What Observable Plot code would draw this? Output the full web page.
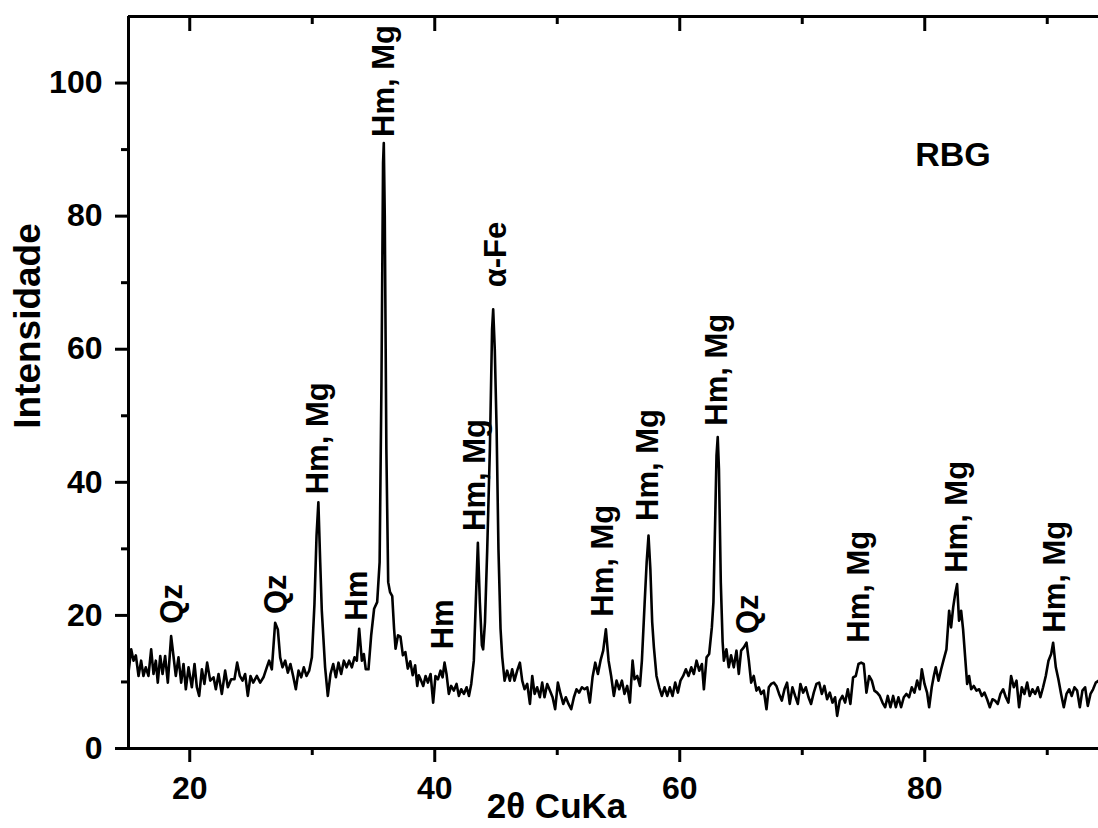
<!DOCTYPE html>
<html>
<head>
<meta charset="utf-8">
<script src="https://cdn.jsdelivr.net/npm/d3@7"></script>
<script src="https://cdn.jsdelivr.net/npm/@observablehq/plot@0.6"></script>
<style>
  html, body { margin: 0; padding: 0; background: #fff; }
  #chart { width: 1098px; height: 828px; overflow: hidden; }
</style>
</head>
<body>
<div id="chart"></div>
<script>
// X-ray diffraction pattern of sample RBG (2θ in degrees, Cu Kα)
const twoTheta = [
  15.0, 15.22, 15.41, 15.6, 15.82, 16.03, 16.22, 16.41, 16.63, 16.85, 17.04, 17.23, 17.39, 17.59, 17.78, 17.99,
  18.21, 18.48, 18.67, 18.86, 19.08, 19.3, 19.49, 19.68, 19.9, 20.17, 20.39, 20.58, 20.77, 20.99, 21.2, 21.42,
  21.67, 21.94, 22.13, 22.35, 22.62, 22.89, 23.11, 23.38, 23.65, 23.87, 24.09, 24.31, 24.52, 24.74, 24.96, 25.18,
  25.48, 25.75, 26.02, 26.29, 26.48, 26.7, 26.97, 27.19, 27.38, 27.57, 27.79, 28.01, 28.22, 28.44, 28.66, 28.88,
  29.1, 29.31, 29.53, 29.75, 29.97, 30.18, 30.35, 30.5, 30.65, 30.78, 31.05, 31.27, 31.49, 31.71, 31.93, 32.14,
  32.36, 32.58, 32.8, 33.01, 33.23, 33.45, 33.64, 33.83, 34.05, 34.21, 34.37, 34.59, 34.81, 35.05, 35.3, 35.5,
  35.65, 35.78, 35.84, 35.92, 36.05, 36.2, 36.35, 36.53, 36.68, 36.8, 37.0, 37.2, 37.4, 37.6, 37.8, 38.0,
  38.2, 38.4, 38.57, 38.7, 38.84, 39.06, 39.25, 39.44, 39.66, 39.87, 40.06, 40.26, 40.47, 40.64, 40.8, 40.96,
  41.15, 41.34, 41.56, 41.78, 41.97, 42.16, 42.38, 42.6, 42.79, 42.98, 43.19, 43.35, 43.52, 43.68, 43.85, 43.95,
  44.1, 44.28, 44.5, 44.68, 44.77, 44.9, 45.05, 45.2, 45.37, 45.51, 45.7, 45.91, 46.13, 46.32, 46.51, 46.73,
  46.95, 47.14, 47.33, 47.55, 47.77, 47.96, 48.15, 48.36, 48.58, 48.77, 48.96, 49.18, 49.4, 49.62, 49.83, 50.05,
  50.27, 50.49, 50.7, 50.92, 51.14, 51.36, 51.57, 51.79, 52.01, 52.23, 52.45, 52.66, 52.88, 53.1, 53.32, 53.53,
  53.75, 53.97, 54.19, 54.4, 54.62, 54.84, 55.06, 55.28, 55.49, 55.71, 55.93, 56.15, 56.31, 56.53, 56.75, 56.91,
  57.13, 57.3, 57.45, 57.6, 57.75, 57.89, 58.1, 58.32, 58.54, 58.76, 58.98, 59.19, 59.41, 59.63, 59.85, 60.06,
  60.28, 60.5, 60.72, 60.94, 61.15, 61.37, 61.59, 61.81, 61.97, 62.19, 62.4, 62.62, 62.75, 62.9, 63.0, 63.1,
  63.2, 63.35, 63.5, 63.6, 63.81, 64.0, 64.19, 64.41, 64.63, 64.82, 65.01, 65.23, 65.45, 65.64, 65.83, 66.04,
  66.26, 66.45, 66.64, 66.86, 67.08, 67.27, 67.46, 67.68, 67.89, 68.11, 68.33, 68.55, 68.76, 68.98, 69.2, 69.42,
  69.64, 69.85, 70.07, 70.29, 70.51, 70.72, 70.94, 71.16, 71.38, 71.6, 71.81, 72.03, 72.25, 72.47, 72.68, 72.85,
  73.06, 73.28, 73.5, 73.72, 73.93, 74.15, 74.37, 74.59, 74.81, 75.02, 75.24, 75.46, 75.68, 75.89, 76.11, 76.33,
  76.55, 76.77, 76.98, 77.2, 77.42, 77.64, 77.85, 78.07, 78.29, 78.51, 78.72, 78.94, 79.16, 79.38, 79.59, 79.76,
  79.98, 80.19, 80.36, 80.57, 80.74, 80.9, 81.12, 81.34, 81.55, 81.77, 81.99, 82.15, 82.32, 82.48, 82.64, 82.8,
  82.97, 83.13, 83.3, 83.46, 83.62, 83.79, 84.0, 84.22, 84.44, 84.66, 84.87, 85.09, 85.31, 85.53, 85.74, 85.96,
  86.18, 86.4, 86.62, 86.83, 87.05, 87.27, 87.49, 87.7, 87.92, 88.14, 88.36, 88.57, 88.79, 89.01, 89.23, 89.44,
  89.66, 89.88, 90.1, 90.32, 90.48, 90.7, 90.91, 91.13, 91.35, 91.57, 91.79, 92.0, 92.22, 92.44, 92.66, 92.87,
  93.09, 93.31, 93.53, 93.74, 93.96, 94.2
];
const intensity = [
  11.4, 14.9, 13.2, 14.0, 10.9, 13.2, 10.9, 12.2, 10.9, 14.9, 11.2, 13.2, 9.9, 13.9, 11.2, 13.9,
  9.9, 16.9, 13.9, 10.9, 13.7, 9.9, 12.7, 8.9, 12.2, 9.2, 12.7, 9.2, 7.9, 11.9, 9.7, 12.9,
  10.2, 10.7, 8.9, 11.2, 8.2, 11.7, 9.2, 10.4, 10.4, 12.9, 10.9, 10.2, 11.2, 7.9, 10.9, 9.9,
  10.9, 9.9, 10.7, 12.2, 13.2, 11.9, 18.9, 17.9, 13.7, 12.2, 13.2, 11.4, 12.7, 10.9, 8.9, 11.7,
  10.7, 12.2, 10.9, 11.7, 13.7, 21.7, 32, 37, 28, 20.7, 12.2, 7.9, 11.2, 12.7, 10.7, 12.9,
  11.2, 13.2, 12.2, 13.2, 12.2, 13.7, 13.2, 18.0, 13.2, 14.2, 11.9, 11.9, 17, 21, 22, 28,
  55, 88, 91, 80, 45, 25, 23.5, 22.9, 18, 15, 17, 16.8, 14, 14.5, 12, 13.1,
  11, 12.5, 9.4, 11, 10.4, 9.4, 10.9, 9.9, 11.2, 6.9, 10.9, 10.4, 11.7, 10.7, 12.9, 11.2,
  8.2, 9.4, 8.7, 9.7, 7.9, 8.9, 8.2, 9.2, 7.9, 9.7, 13.2, 22, 30.9, 22, 15.5, 14.9,
  19, 29.7, 45, 63, 66, 60, 48, 30, 18, 13.7, 10.2, 11.7, 10.2, 11.9, 10.2, 11.7,
  12.9, 10.2, 8.9, 9.7, 6.7, 10.9, 8.2, 9.2, 7.7, 9.9, 7.7, 9.7, 8.7, 7.7, 5.9, 9.9,
  8.2, 6.7, 7.7, 6.7, 5.9, 7.7, 8.9, 8.4, 9.2, 8.9, 9.2, 6.9, 10.7, 12.9, 11.2, 13.2,
  14.7, 17.9, 13.2, 10.9, 7.9, 10.2, 8.9, 10.2, 8.2, 9.4, 6.9, 13.2, 10.4, 10.9, 9.4, 13.2,
  21.7, 28, 32, 27, 19, 15.2, 10.9, 9.2, 7.9, 9.2, 7.9, 9.2, 7.9, 9.9, 8.4, 10.2,
  10.9, 11.9, 10.9, 12.2, 11.2, 13.2, 11.7, 12.7, 8.9, 13.7, 14.2, 18.2, 22, 35, 44, 46.8,
  42, 25, 16, 13.2, 14.9, 12.2, 14.0, 12.2, 14.7, 11.2, 14.7, 15.2, 15.9, 13.2, 9.9, 10.9,
  8.7, 9.2, 8.2, 8.7, 5.9, 9.2, 9.7, 9.9, 9.4, 8.2, 7.2, 8.9, 9.9, 6.7, 9.2, 7.9,
  6.7, 9.7, 8.4, 9.2, 7.7, 6.7, 8.4, 9.7, 9.9, 8.2, 9.4, 7.4, 8.4, 6.9, 7.7, 4.9,
  7.2, 7.9, 6.9, 8.9, 6.7, 10.7, 10.9, 12.7, 12.9, 12.7, 8.4, 10.9, 10.2, 8.7, 8.4, 7.9,
  6.9, 6.2, 7.9, 6.2, 7.9, 6.2, 7.7, 6.2, 7.7, 8.2, 7.7, 9.2, 8.4, 10.2, 8.9, 11.9,
  9.7, 8.4, 6.2, 9.2, 10.9, 12.2, 10.2, 11.9, 13.4, 14.9, 20.7, 18.2, 21.2, 23.2, 24.7, 19.2,
  20.7, 17.9, 13.7, 9.7, 10.9, 8.9, 9.4, 8.7, 8.9, 7.9, 8.4, 7.4, 6.2, 7.4, 7.2, 6.7,
  8.2, 8.9, 7.7, 6.9, 10.9, 9.2, 10.2, 6.2, 9.2, 8.2, 9.9, 7.9, 8.9, 8.2, 9.2, 7.7,
  9.2, 10.9, 13.2, 14.2, 15.9, 12.2, 10.4, 8.2, 6.2, 8.2, 8.9, 7.9, 9.2, 8.7, 6.2, 8.7,
  9.2, 6.4, 8.2, 8.9, 9.9, 10.2
];

// Phase identification of the reflections
const peakNames = ["Qz", "Qz", "Hm, Mg", "Hm", "Hm, Mg", "Hm", "Hm, Mg", "α-Fe", "Hm, Mg", "Hm, Mg", "Hm, Mg", "Qz", "Hm, Mg", "Hm, Mg", "Hm, Mg"];
const peakTheta = [18.59, 27.04, 30.51, 33.69, 35.9, 40.67, 43.33, 45.04, 53.73, 57.45, 63.08, 65.6, 74.6, 82.6, 90.6];
const peakLabelBase = [18.75, 20.2, 38.2, 19.2, 91.9, 14.9, 32.7, 69.3, 19.8, 34.2, 48.5, 17.2, 15.9, 26.4, 17.4];

// Axis ticks
const xMajorTicks = [20, 40, 60, 80];
const xMinorTicks = [30, 50, 70, 90];
const yMajorTicks = [0, 20, 40, 60, 80, 100];
const yMinorTicks = [10, 30, 50, 70, 90];

const pattern = twoTheta.map((t, i) => ({t, v: intensity[i]}));
const peaks = peakNames.map((name, i) => ({name, t: peakTheta[i], v: peakLabelBase[i]}));

const family = "'Liberation Sans', Arial, Helvetica, sans-serif";
const bold = {fontFamily: family, fontWeight: "bold"};

const chart = Plot.plot({
  width: 1098,
  height: 828,
  marginLeft: 128,
  marginRight: 0,
  marginTop: 16,
  marginBottom: 80,
  style: {fontFamily: family, background: "white", color: "black", overflow: "hidden"},
  x: {domain: [15, 95], range: [128, 1108]},
  y: {domain: [0, 110]},
  marks: [
    Plot.line(pattern, {x: "t", y: "v", stroke: "black", strokeWidth: 2.6, strokeLinejoin: "round"}),
    Plot.axisY({ticks: yMajorTicks, tickSize: 13, tickPadding: 13, strokeWidth: 3, fontSize: 32, ...bold, label: null}),
    Plot.axisY({ticks: yMinorTicks, tickSize: 7, strokeWidth: 3, text: null, label: null}),
    Plot.axisX({ticks: xMajorTicks, anchor: "bottom", tickSize: 14, tickPadding: 14, strokeWidth: 3, fontSize: 32, ...bold, label: null}),
    Plot.axisX({ticks: xMinorTicks, anchor: "bottom", tickSize: 7, strokeWidth: 3, text: null, label: null}),
    Plot.axisX({ticks: xMajorTicks, anchor: "top", tickSize: -14, strokeWidth: 3, text: null, label: null}),
    Plot.axisX({ticks: xMinorTicks, anchor: "top", tickSize: -7, strokeWidth: 3, text: null, label: null}),
    Plot.ruleX([15], {strokeWidth: 3}),
    Plot.ruleY([0, 110], {strokeWidth: 3}),
    Plot.text(peaks, {x: "t", y: "v", text: "name", rotate: -90, textAnchor: "start", lineAnchor: "middle", fontSize: 31, ...bold}),
    Plot.text(["RBG"], {x: 82.3, y: 89.1, fontSize: 34, ...bold}),
    Plot.text(["Intensidade"], {frameAnchor: "top-left", textAnchor: "middle", lineAnchor: "middle", dx: -100, dy: 309.5, rotate: -90, fontSize: 37, ...bold}),
    Plot.text(["2θ CuKa"], {frameAnchor: "bottom-left", textAnchor: "middle", lineAnchor: "middle", dx: 428, dy: 58.5, fontSize: 35, ...bold})
  ]
});

document.getElementById("chart").appendChild(chart);
</script>
</body>
</html>
